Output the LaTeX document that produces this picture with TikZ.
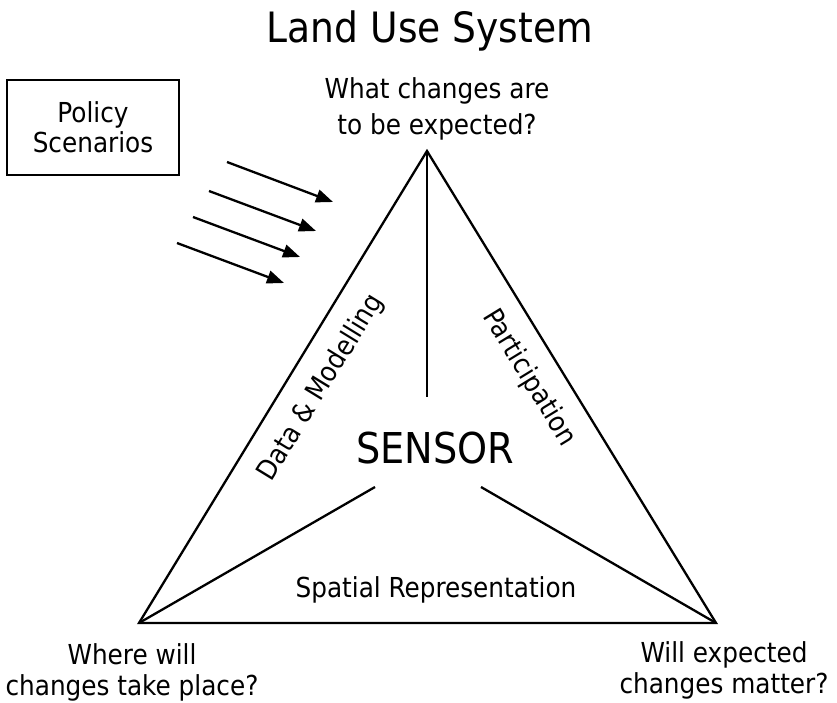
\documentclass[tikz,border=0pt]{standalone}
\usepackage{fontspec}
\setmainfont{DejaVu Sans Condensed}
\usetikzlibrary{arrows.meta}
\begin{document}
\begin{tikzpicture}[x=1pt,y=-1pt,
  edge/.style={line width=2.3pt},
  flow/.style={line width=2.3pt,-{Triangle[length=17pt,width=13pt]}},
  lbl/.style={font=\fontsize{27.5}{32}\selectfont, inner sep=0pt, align=center},
  boxnode/.style={draw, line width=2.3pt, minimum width=172pt, minimum height=95pt, inner sep=0pt, align=center, font=\fontsize{27.5}{30}\selectfont},
]
\useasboundingbox (0,0) rectangle (837,703);
% triangle vertices
\coordinate (A) at (427,151);
\coordinate (L) at (139,623);
\coordinate (R) at (716,623);
\coordinate (Ai) at (427,397);
\coordinate (Li) at (375,487);
\coordinate (Ri) at (481,487);
\draw[edge] (A) -- (L) -- (R) -- cycle;
\draw[edge] (A) -- (Ai);
\draw[edge] (L) -- (Li);
\draw[edge] (R) -- (Ri);
% title
\node[lbl, anchor=base, font=\fontsize{41.8}{48}\selectfont] (title) at (430,43) {Land Use System};
% vertex labels (base = baseline of last line)
\node[lbl, anchor=base, font=\fontsize{27.5}{36}\selectfont] (top) at (437,135) {What changes are\\to be expected?};
\node[lbl, anchor=base, font=\fontsize{27.5}{31}\selectfont] (left) at (132,695) {Where will\\changes take place?};
\node[lbl, anchor=base, font=\fontsize{27.5}{31}\selectfont] (right) at (724,693) {Will expected\\changes matter?};
% side labels
\node[lbl, rotate=58.5] (data) at (321,388) {Data \& Modelling};
\node[lbl, rotate=-58.5] (part) at (529,378) {Participation};
\node[lbl, anchor=base] (spat) at (436,597) {Spatial Representation};
\node[lbl, anchor=base, font=\fontsize{42.5}{48}\selectfont] (sensor) at (435,463) {SENSOR};
% policy box
\node[boxnode] (policy) at (93,127.5) {Policy\\Scenarios};
% arrows
\coordinate (s1) at (227,162); \coordinate (e1) at (333,202);
\coordinate (s2) at (209,191); \coordinate (e2) at (316,231);
\coordinate (s3) at (193,217); \coordinate (e3) at (300,257);
\coordinate (s4) at (177,243); \coordinate (e4) at (284,283);
\draw[flow] (s1) -- (e1);
\draw[flow] (s2) -- (e2);
\draw[flow] (s3) -- (e3);
\draw[flow] (s4) -- (e4);
\end{tikzpicture}
\end{document}
